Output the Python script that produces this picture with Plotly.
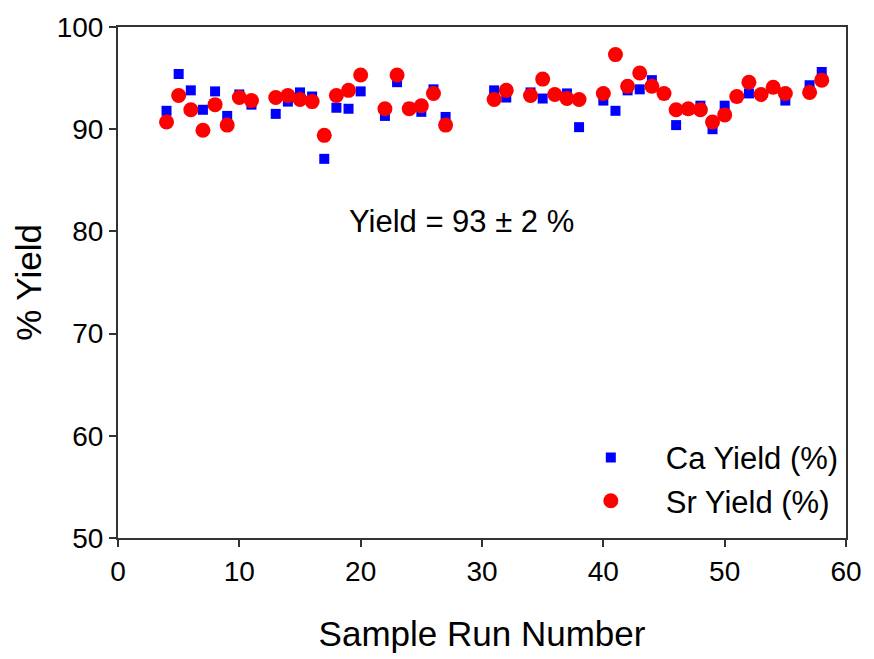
import plotly.graph_objects as go

# Sample run numbers and yields (%)
ca_runs = [4, 5, 6, 7, 8, 9, 10, 11, 13, 14, 15, 16, 17, 18, 19, 20, 22, 23, 24, 25, 26, 27,
           31, 32, 34, 35, 36, 37, 38, 40, 41, 42, 43, 44, 45, 46, 47, 48, 49, 50, 51, 52, 53,
           54, 55, 57, 58]
ca_yield = [91.8, 95.4, 93.8, 91.9, 93.7, 91.3, 93.4, 92.4, 91.5, 92.7, 93.6, 93.2, 87.1, 92.1,
            92.0, 93.7, 91.3, 94.6, 92.1, 91.7, 93.9, 91.2, 93.8, 93.1, 93.6, 93.0, 93.4, 93.5,
            90.2, 92.8, 91.8, 93.8, 93.9, 94.8, 93.4, 90.4, 91.9, 92.3, 90.0, 92.3, 93.1, 93.5,
            93.4, 94.0, 92.8, 94.3, 95.6]

sr_runs = [4, 5, 6, 7, 8, 9, 10, 11, 13, 14, 15, 16, 17, 18, 19, 20, 22, 23, 24, 25, 26, 27,
           31, 32, 34, 35, 36, 37, 38, 40, 41, 42, 43, 44, 45, 46, 47, 48, 49, 50, 51, 52, 53,
           54, 55, 57, 58]
sr_yield = [90.7, 93.3, 91.9, 89.9, 92.4, 90.4, 93.1, 92.8, 93.1, 93.3, 92.9, 92.7, 89.4, 93.3,
            93.8, 95.3, 92.0, 95.3, 92.0, 92.3, 93.5, 90.4, 92.9, 93.8, 93.3, 94.9, 93.4, 93.0,
            92.9, 93.5, 97.3, 94.2, 95.5, 94.2, 93.5, 91.9, 92.0, 91.9, 90.7, 91.4, 93.2, 94.6,
            93.4, 94.1, 93.5, 93.6, 94.8]

x_ticks = [0, 10, 20, 30, 40, 50, 60]
y_ticks = [50, 60, 70, 80, 90, 100]

FONT = "Liberation Sans, Arial, sans-serif"
AXCOL = "#333333"

fig = go.Figure()
fig.add_trace(go.Scatter(
    x=ca_runs, y=ca_yield, mode="markers", name="Ca Yield (%)",
    marker=dict(symbol="square", size=10, color="#0000FF", line=dict(width=0)),
))
fig.add_trace(go.Scatter(
    x=sr_runs, y=sr_yield, mode="markers", name="Sr Yield (%)",
    marker=dict(symbol="circle", size=15, color="#FF0000", line=dict(width=0)),
))

fig.add_annotation(
    x=28.3, y=81, xref="x", yref="y", text="Yield = 93 ± 2 %", showarrow=False,
    font=dict(family=FONT, size=31, color="black"),
)

fig.update_layout(
    width=874, height=659,
    margin=dict(l=118, r=19, t=23, b=119),
    paper_bgcolor="white", plot_bgcolor="white",
    font=dict(family=FONT, color="black"),
    showlegend=True,
    legend=dict(
        x=0.997, y=0.115, xanchor="right", yanchor="middle",
        bgcolor="rgba(0,0,0,0)", font=dict(family=FONT, size=31, color="black"),
        itemwidth=100, tracegroupgap=0,
    ),
    xaxis=dict(
        range=[0, 60], tickvals=x_ticks, ticks="outside", ticklen=7, tickwidth=2,
        tickcolor=AXCOL, showline=True, linewidth=2, linecolor=AXCOL, mirror=True,
        showgrid=False, zeroline=False,
        tickfont=dict(family=FONT, size=28, color="black"),
        title=dict(text="Sample Run Number", font=dict(family=FONT, size=35, color="black"),
                   standoff=36),
    ),
    yaxis=dict(
        range=[50, 100], tickvals=y_ticks, ticks="outside", ticklen=7, tickwidth=2,
        tickcolor=AXCOL, showline=True, linewidth=2, linecolor=AXCOL, mirror=True,
        showgrid=False, zeroline=False,
        tickfont=dict(family=FONT, size=28, color="black"),
        title=dict(text="% Yield", font=dict(family=FONT, size=35, color="black"),
                   standoff=4),
    ),
)

fig.write_html("out.html")
